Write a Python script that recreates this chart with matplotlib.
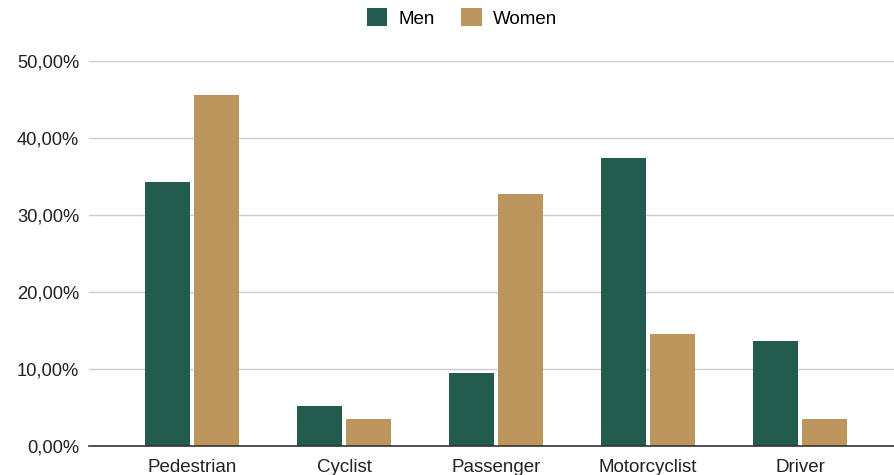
import matplotlib
matplotlib.use("Agg")
import matplotlib.pyplot as plt
import numpy as np
from matplotlib.ticker import FuncFormatter

categories = ["Pedestrian", "Cyclist", "Passenger", "Motorcyclist", "Driver"]
men = [34.3, 5.2, 9.5, 37.4, 13.6]
women = [45.6, 3.5, 32.7, 14.5, 3.5]
series_names = ["Men", "Women"]
colors = ["#235B4E", "#BC955C"]

plt.rcParams['font.family'] = ['Liberation Sans', 'DejaVu Sans']

fig = plt.figure(figsize=(8.95, 4.75), dpi=100)
W, H = 895, 475
ax = fig.add_axes([89 / W, (H - 446) / H, (895 - 89) / W, (446 - 61) / H])

x = np.arange(len(categories))
bw = 0.296
off = 0.161
ax.bar(x - off, men, width=bw, color=colors[0], label=series_names[0], zorder=3)
ax.bar(x + off, women, width=bw, color=colors[1], label=series_names[1], zorder=3)

ax.set_xlim(-0.678, 4.625)
ax.set_ylim(0, 50)
ax.set_yticks([0, 10, 20, 30, 40, 50])
ax.yaxis.set_major_formatter(FuncFormatter(lambda v, p: f"{v:.2f}".replace(".", ",") + "%"))
ax.grid(axis='y', color='#CCCCCC', linewidth=1, zorder=0)
for s in ['top', 'right', 'left']:
    ax.spines[s].set_visible(False)
ax.spines['bottom'].set_color('#333333')
ax.spines['bottom'].set_linewidth(1.2)
ax.spines['bottom'].set_zorder(4)
ax.tick_params(axis='y', length=0, labelsize=13.2, labelcolor='#222222', pad=7)
ax.tick_params(axis='x', length=0, labelsize=13.5, labelcolor='#222222', pad=9)
ax.set_xticks(x)
ax.set_xticklabels(categories)

fig.legend(loc='upper center', bbox_to_anchor=(0.516, 1.018), ncol=2, frameon=False,
           fontsize=13.5, handlelength=1.1, handleheight=1.1, columnspacing=1.4,
           handletextpad=0.6)

fig.savefig("out.png", dpi=100)
